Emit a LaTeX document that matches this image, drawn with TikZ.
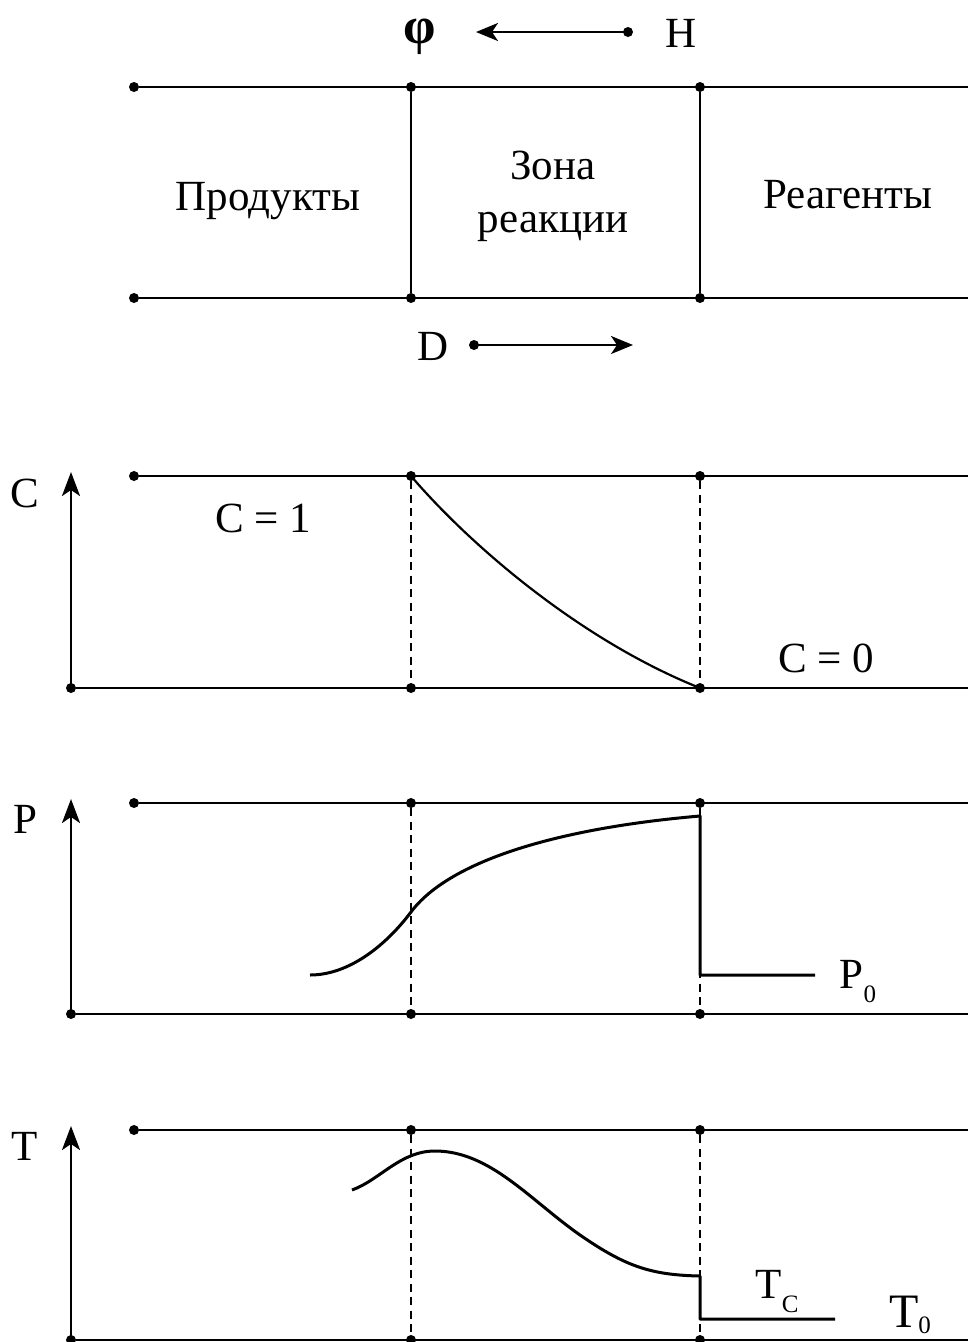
\documentclass[tikz,border=0pt]{standalone}
\usepackage{fontspec}
\setmainfont{Liberation Serif}
\usetikzlibrary{arrows.meta,positioning}

\newcommand{\lowidx}[2]{\raisebox{-#2}{\fontsize{25}{25}\selectfont #1}}

\begin{document}
\begin{tikzpicture}[
  x=1pt, y=-1pt,
  dot/.style={
    circle, fill=black, inner sep=0pt, minimum size=10pt
  },
  boundary/.style={
    line width=2.4pt, black
  },
  guide/.style={
    line width=1.8pt, dash pattern=on 8pt off 5.5pt
  },
  profile/.style={
    line width=3pt, black, line join=round
  },
  flow/.style={
    -{Stealth[length=22pt, width=18pt, inset=6pt]}, line width=2.4pt
  },
  axis/.style={
    -{Stealth[length=24pt, width=18pt, inset=6pt]}, line width=2.4pt
  },
  lbl/.style={
    font=\fontsize{43}{48}\selectfont, inner sep=0pt, anchor=base
  },
  zone/.style={
    font=\fontsize{43}{53}\selectfont, align=center, inner sep=0pt
  }
]
\path[use as bounding box, fill=white] (0,0) rectangle (968,1342);

% ==================== CHANNEL ====================

\node[dot] (top-l) at (134,87) {};
\node[dot] (top-1) at (411,87) {};
\node[dot] (top-2) at (700,87) {};
\coordinate (top-r) at (968,87);
\node[dot] (bot-l) at (134,298) {};
\node[dot] (bot-1) at (411,298) {};
\node[dot] (bot-2) at (700,298) {};
\coordinate (bot-r) at (968,298);

\draw[boundary] (top-l) -- (top-r);
\draw[boundary] (bot-l) -- (bot-r);
\draw[boundary] (top-1) -- (bot-1);
\draw[boundary] (top-2) -- (bot-2);

% Regions of the channel
\node[lbl] (prod) at (268,210) {Продукты};
\node[zone] (zona) at (553,196) {Зона\\реакции};
\node[lbl] (reag) at (848,208) {Реагенты};

% Wave front and diffusion directions
\node[lbl, font=\fontsize{52}{52}\selectfont\bfseries] (phi) at (420,43) {φ};
\node[lbl] (hlab) at (681,47) {H};
\node[dot] (hdot) at (628,32) {};
\coordinate (htip) at (476,32);
\draw[flow] (hdot.center) -- (htip);

\node[lbl] (dlab) at (433,360) {D};
\node[dot] (ddot) at (474,345) {};
\coordinate (dtip) at (633,345);
\draw[flow] (ddot.center) -- (dtip);

% ==================== PROFILE PANELS ====================

\foreach \nm/\yt/\yb in {c/476/688, p/803/1014, t/1130/1340} {
  \node[dot] (\nm-tl) at (134,\yt) {};
  \node[dot] (\nm-t1) at (411,\yt) {};
  \node[dot] (\nm-t2) at (700,\yt) {};
  \coordinate (\nm-tr) at (968,\yt);
  \node[dot] (\nm-bl) at (71,\yb) {};
  \node[dot] (\nm-b1) at (411,\yb) {};
  \node[dot] (\nm-b2) at (700,\yb) {};
  \coordinate (\nm-br) at (968,\yb);
  \coordinate (\nm-ax) at (71,\yt-4);
  \draw[boundary] (\nm-tl) -- (\nm-tr);
  \draw[boundary] (\nm-bl) -- (\nm-br);
  \draw[axis] (\nm-bl.center) -- (\nm-ax);
  \draw[guide] (\nm-t1) -- (\nm-b1);
  \draw[guide] (\nm-t2) -- (\nm-b2);
}

% Concentration
\node[lbl] (clab) at (25,507) {C};
\draw[profile, line width=2.2pt] (c-t1.center) .. controls (470,545) and (580,640) .. (c-b2.center);
\node[lbl] (c1) at (263,532) {C = 1};
\node[lbl] (c0) at (826,672) {C = 0};

% Pressure
\node[lbl] (plab) at (25,833) {P};
\draw[profile] (310,975) .. controls (350,975) and (387,944) .. (411,912)
  .. controls (450,860) and (560,828) .. (700,816) -- (700,975) -- (815,975);
\node[lbl] (p0) at (858,988) {P\lowidx{0}{14pt}};

% Temperature
\node[lbl] (tlab) at (25,1160) {T};
\draw[profile] (352,1190) .. controls (380,1180) and (400,1151) .. (435,1151)
  .. controls (490,1151) and (530,1200) .. (580,1235)
  .. controls (625,1266) and (650,1275) .. (700,1276) -- (700,1319) -- (835,1319);
\node[lbl] (tc) at (777,1298) {T\lowidx{C}{14pt}};
\node[lbl, font=\fontsize{48}{50}\selectfont] (t0) at (910,1327) {T\lowidx{0}{6pt}};

\end{tikzpicture}
\end{document}
